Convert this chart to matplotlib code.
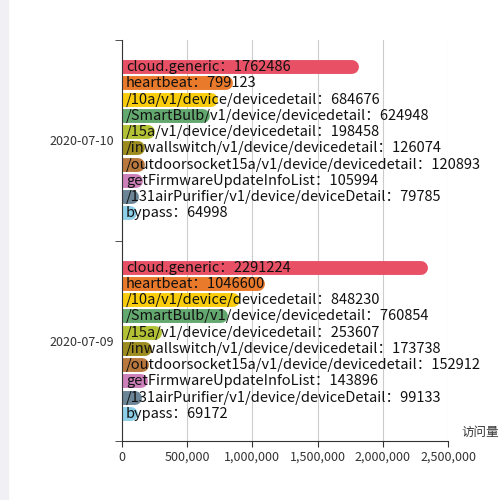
import matplotlib
matplotlib.use("Agg")
import matplotlib.pyplot as plt
from matplotlib.ticker import FuncFormatter

plt.rcParams["font.family"] = ["Noto Sans CJK SC", "DejaVu Sans"]

dates = ["2020-07-09", "2020-07-10"]
names = [
    "cloud.generic",
    "heartbeat",
    "/10a/v1/device/devicedetail",
    "/SmartBulb/v1/device/devicedetail",
    "/15a/v1/device/devicedetail",
    "/inwallswitch/v1/device/devicedetail",
    "/outdoorsocket15a/v1/device/devicedetail",
    "getFirmwareUpdateInfoList",
    "/131airPurifier/v1/device/deviceDetail",
    "bypass",
]
values_0709 = [2291224, 1046600, 848230, 760854, 253607, 173738, 152912, 143896, 99133, 69172]
values_0710 = [1762486, 799123, 684676, 624948, 198458, 126074, 120893, 105994, 79785, 64998]
colors = ["#e85065", "#e9792b", "#f9cd0c", "#63a86f", "#b3c134",
          "#9c8b1e", "#b9783e", "#cc7fb9", "#6b8597", "#8dcfe9"]

fig = plt.figure(figsize=(5, 5), dpi=100)
fig.patches.append(plt.Rectangle((0, 0), 0.016, 1, transform=fig.transFigure,
                                 color="#f0f0f5", zorder=0))
ax = fig.add_axes([0.244, 0.118, 0.652, 0.802])

pitch = 0.081
for ci, vals in enumerate([values_0709, values_0710]):
    for i, (n, v) in enumerate(zip(names, vals)):
        y = ci + (4.5 - i) * pitch
        ax.plot([0, v], [y, y], color=colors[i], linewidth=10,
                solid_capstyle="round", zorder=2)
        ax.text(30000, y, f"{n}：{v}", va="center", ha="left",
                fontsize=10.5, color="#111111", zorder=3)

ax.set_xlim(0, 2500000)
ax.set_ylim(-0.5, 1.5)
ax.set_yticks([0, 1])
ax.set_yticklabels(dates)
ax.set_yticks([-0.5, 0.5, 1.5], minor=True)
ax.tick_params(axis="y", which="major", length=0, labelsize=9, colors="#333333", pad=6)
ax.tick_params(axis="y", which="minor", length=5, color="#333333")
ax.set_xticks([0, 500000, 1000000, 1500000, 2000000, 2500000])
ax.xaxis.set_major_formatter(FuncFormatter(lambda x, p: f"{int(x):,}"))
ax.tick_params(axis="x", length=4, labelsize=9, colors="#333333", pad=3)
ax.grid(axis="x", color="#cccccc", linewidth=0.8, zorder=0)
for s in ["top", "right"]:
    ax.spines[s].set_visible(False)
ax.spines["left"].set_color("#333333")
ax.spines["bottom"].set_color("#333333")
ax.text(1.04, 0.005, "访问量", transform=ax.transAxes, ha="left", va="bottom",
        fontsize=9, color="#333333")

fig.savefig("out.png")
